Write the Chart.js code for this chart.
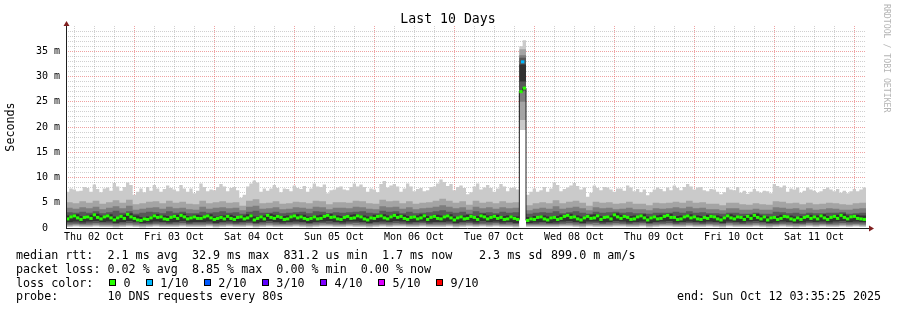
<!DOCTYPE html>
<html>
<head>
<meta charset="utf-8">
<script src="https://cdn.jsdelivr.net/npm/chart.js@4.4.0/dist/chart.umd.min.js"></script>
<style>
  html, body { margin: 0; padding: 0; background: #fff; overflow: hidden; }
  #wrap { position: relative; width: 897px; height: 310px; }
  .leg { position: absolute; left: 16px; font: 11.7px "DejaVu Sans Mono", monospace; line-height: 14px; color: #000; white-space: pre; }
  .box { position: absolute; width: 5px; height: 5px; border: 1px solid #000; }
</style>
</head>
<body>
<div id="wrap">
  <canvas id="myChart" width="897" height="310"></canvas>
  <div class="leg" style="top:248px">median rtt:  2.1 ms avg  32.9 ms max  831.2 us min  1.7 ms now</div>
  <div class="leg" style="top:248px;left:479px">2.3 ms sd</div>
  <div class="leg" style="top:248px;left:551px">899.0 m am/s</div>
  <div class="leg" style="top:262px">packet loss: 0.02 % avg  8.85 % max  0.00 % min  0.00 % now</div>
  <div class="leg" style="top:276px">loss color:</div>
  <div class="leg" style="top:289px">probe:       10 DNS requests every 80s</div>
  <div class="leg" style="top:289px;left:677px">end: Sun Oct 12 03:35:25 2025</div>
</div>
<script>
// hours since Thu 02 Oct 00:00
const startHour = 3.59
const endHour = 243.59

const dayLabels = ['Thu 02 Oct', 'Fri 03 Oct', 'Sat 04 Oct', 'Sun 05 Oct', 'Mon 06 Oct',
    'Tue 07 Oct', 'Wed 08 Oct', 'Thu 09 Oct', 'Fri 10 Oct', 'Sat 11 Oct']
const yTickLabels = ['0  ', '5 m', '10 m', '15 m', '20 m', '25 m', '30 m', '35 m']

const lossLabels = ['0', '1/10', '2/10', '3/10', '4/10', '5/10', '9/10']
const lossColors = ['#26ff00', '#00b8ff', '#0059ff', '#5e00ff', '#7e00ff', '#dd00ff', '#ff0000']

// slowest ping, one value per hour (ms)
const ping10 = [7.2,7.8,7.6,7.3,7.4,8.1,7.9,7.2,8.6,7.7,7.1,7.8,8.0,7.4,8.9,8.2,7.4,8.1,9.0,8.5,6.6,7.2,7.8,7.1,
    8.1,7.4,8.5,7.8,7.2,7.7,8.4,7.9,7.6,7.3,8.5,7.8,7.2,7.8,6.9,7.4,8.8,8.1,7.3,7.6,7.5,8.1,8.7,8.2,
    7.3,7.9,8.1,7.5,6.0,6.6,8.2,8.8,9.4,9.0,7.2,7.8,7.4,7.8,8.5,7.9,7.1,7.8,7.7,7.3,8.4,7.9,7.7,8.3,
    7.2,7.8,8.8,8.2,8.1,8.6,6.9,7.5,7.6,8.0,8.2,7.6,7.5,8.1,8.8,8.2,8.6,8.1,7.2,7.8,7.6,7.1,8.7,9.3,
    8.0,8.4,8.7,8.2,7.2,7.8,8.8,8.2,7.3,7.7,7.9,7.3,7.5,8.1,8.2,8.8,9.6,9.1,8.3,8.7,7.5,8.1,8.4,7.9,
    6.7,7.1,8.2,8.8,7.6,8.0,8.5,7.9,7.2,7.8,8.7,8.2,7.3,7.9,8.0,7.6,36.0,37.2,6.6,7.2,7.8,7.2,7.5,8.1,
    7.2,7.8,9.0,8.5,7.3,7.7,8.0,8.4,8.9,8.3,7.6,8.0,6.2,7.0,8.4,7.9,7.5,8.1,8.0,7.6,7.2,7.8,7.8,7.4,
    8.4,8.0,7.3,7.7,7.1,7.6,6.5,7.1,7.6,8.0,7.7,7.3,8.0,7.5,8.4,7.9,7.5,8.1,8.7,8.2,7.6,8.0,8.1,7.5,
    7.3,7.7,7.6,7.2,6.7,7.1,8.0,7.6,7.5,8.1,7.0,7.4,6.8,7.2,7.7,7.3,7.0,7.4,7.3,6.9,8.7,8.3,8.0,8.4,
    7.2,7.8,7.6,8.0,7.0,7.4,8.0,7.6,7.4,7.0,7.3,7.7,8.0,7.6,7.3,7.7,7.0,7.4,6.9,7.3,7.7,7.3,7.6,8.0]

// the other sorted pings, one value per 2 hours (ms)
const ping9 = [5.1,4.9,5.3,5.0,5.4,4.8,5.1,5.5,5.0,5.6,4.7,4.9,5.2,5.3,4.9,5.4,5.0,5.2,4.8,4.7,5.4,4.9,5.1,5.3,
    5.0,5.1,4.4,5.4,5.7,4.9,5.0,5.3,4.8,4.9,5.2,5.1,4.9,5.4,5.3,4.7,5.1,5.1,5.0,5.4,5.3,4.9,4.8,5.6,
    5.3,5.4,4.9,5.3,4.8,5.0,5.1,5.4,5.8,5.4,5.0,5.3,4.6,5.4,5.0,5.2,4.9,5.3,5.0,5.1,35.4,4.5,4.9,5.1,
    4.9,5.5,4.9,5.2,5.4,5.0,4.4,5.2,5.0,5.1,4.8,4.9,5.2,4.8,4.8,4.5,5.0,4.9,5.0,5.2,5.0,5.4,5.0,5.1,
    4.8,4.8,4.5,5.0,5.0,4.7,4.6,4.9,4.7,4.6,5.3,5.2,4.9,5.0,4.7,5.0,4.7,4.8,5.0,4.9,4.7,4.6,4.9,5.0]
const ping8 = [4.0,3.8,4.1,3.9,4.2,3.7,4.0,4.3,3.9,4.4,3.6,3.8,4.0,4.1,3.8,4.2,3.9,4.0,3.7,3.6,4.2,3.8,4.0,4.1,
    3.9,4.0,3.5,4.2,4.4,3.8,3.9,4.1,3.7,3.8,4.1,4.0,3.8,4.2,4.1,3.7,4.0,4.0,3.9,4.2,4.1,3.8,3.7,4.3,
    4.1,4.2,3.8,4.1,3.7,3.9,4.0,4.2,4.5,4.2,3.9,4.1,3.6,4.2,3.9,4.1,3.8,4.1,3.9,4.0,34.2,3.5,3.8,4.0,
    3.8,4.3,3.8,4.0,4.2,3.9,3.5,4.1,3.9,4.0,3.7,3.8,4.0,3.7,3.7,3.5,3.9,3.8,3.9,4.1,3.9,4.2,3.9,4.0,
    3.7,3.7,3.5,3.9,3.9,3.6,3.6,3.8,3.6,3.6,4.1,4.0,3.8,3.9,3.6,3.9,3.6,3.7,3.9,3.8,3.6,3.6,3.8,3.9]
const ping7 = [3.1,3.0,3.2,3.0,3.3,2.9,3.1,3.4,3.0,3.3,2.8,3.0,3.2,3.1,2.9,3.3,3.0,3.2,2.9,2.9,3.2,3.0,3.1,3.3,
    3.0,3.1,2.8,3.2,3.4,3.0,3.0,3.2,2.9,3.0,3.1,3.2,2.9,3.3,3.2,2.9,3.1,3.0,3.1,3.2,3.3,3.0,2.9,3.4,
    3.2,3.3,2.9,3.2,2.9,3.0,3.1,3.3,3.5,3.2,3.0,3.2,2.8,3.3,3.0,3.1,2.9,3.2,3.0,3.1,33.7,2.8,3.0,3.1,
    3.0,3.3,2.9,3.1,3.3,3.0,2.8,3.2,3.0,3.1,3.2,3.0,3.1,2.9,2.9,2.8,3.0,3.0,3.0,3.2,3.0,3.3,3.0,3.1,
    2.9,2.9,2.8,3.0,3.0,2.8,2.8,3.0,2.8,2.8,3.2,3.1,2.9,3.0,2.8,3.0,2.9,2.9,3.0,3.0,3.1,2.8,2.9,3.0]
const ping6 = [2.5,2.7,2.4,2.6,2.8,2.5,2.7,2.3,2.6,2.9,2.5,2.2,2.3,2.7,2.5,2.4,2.6,2.8,2.4,2.6,2.5,2.7,2.3,2.5,
    2.6,2.4,2.5,2.7,2.3,2.5,2.8,2.6,2.4,2.5,2.7,2.6,2.3,2.5,2.6,2.8,2.5,2.4,2.6,2.7,2.5,2.3,2.6,2.7,
    2.5,2.8,2.6,2.4,2.5,2.7,2.4,2.6,2.5,2.7,2.3,2.5,2.6,2.4,2.8,2.5,2.6,2.4,2.5,2.3,32.4,2.2,2.4,2.5,
    2.3,2.4,2.6,2.8,2.5,2.3,2.6,2.7,2.4,2.5,2.9,2.6,2.4,2.5,2.7,2.3,2.5,2.6,2.8,2.4,2.5,2.7,2.5,2.4,
    2.6,2.5,2.3,2.7,2.5,2.4,2.6,2.8,2.5,2.3,2.4,2.6,2.5,2.3,2.4,2.6,2.5,2.7,2.4,2.6,2.8,2.5,2.6,2.5]
const ping5 = [1.2,1.3,1.1,1.3,1.4,1.2,1.3,1.0,1.2,1.4,1.2,1.0,1.1,1.3,1.2,1.1,1.2,1.4,1.1,1.2,1.2,1.3,1.0,1.2,
    1.3,1.1,1.2,1.3,1.0,1.2,1.4,1.2,1.1,1.2,1.3,1.2,1.0,1.2,1.3,1.4,1.2,1.1,1.3,1.3,1.2,1.0,1.2,1.3,
    1.2,1.4,1.3,1.1,1.2,1.3,1.1,1.2,1.2,1.3,1.0,1.2,1.3,1.1,1.4,1.2,1.3,1.1,1.2,1.0,29.0,1.0,1.1,1.2,
    1.0,1.1,1.3,1.4,1.2,1.0,1.3,1.3,1.1,1.2,1.4,1.3,1.1,1.2,1.3,1.0,1.2,1.3,1.4,1.1,1.2,1.3,1.2,1.1,
    1.3,1.2,1.0,1.3,1.2,1.1,1.3,1.4,1.2,1.0,1.1,1.3,1.2,1.0,1.1,1.3,1.2,1.3,1.1,1.3,1.4,1.2,1.3,1.2]
const ping4 = [0.9,0.9,0.8,0.9,1.0,0.9,0.9,0.8,0.9,1.0,0.9,0.8,0.8,0.9,0.9,0.8,0.9,1.0,0.8,0.9,0.9,0.9,0.8,0.9,
    0.9,0.8,0.9,1.0,0.8,0.9,1.0,0.9,0.8,0.9,0.9,0.9,0.8,0.9,1.0,0.9,0.9,0.8,0.9,1.0,0.9,0.8,0.9,0.9,
    0.9,1.0,0.9,0.8,0.9,1.0,0.8,0.9,0.9,0.9,0.8,0.9,1.0,0.8,0.9,0.9,1.0,0.8,0.9,0.8,27.2,0.8,0.8,0.9,
    0.8,0.8,0.9,1.0,0.9,0.8,0.9,1.0,0.8,0.9,1.0,0.9,0.8,0.9,1.0,0.8,0.9,0.9,1.0,0.8,0.9,1.0,0.9,0.8,
    0.9,0.9,0.8,1.0,0.9,0.8,0.9,1.0,0.9,0.8,0.8,0.9,0.9,0.8,0.8,1.0,0.9,0.9,0.8,0.9,1.0,0.9,0.9,0.9]
const ping3 = [0.6,0.7,0.6,0.6,0.7,0.6,0.6,0.5,0.6,0.7,0.6,0.5,0.6,0.7,0.6,0.6,0.6,0.7,0.6,0.6,0.6,0.7,0.5,0.6,
    0.7,0.6,0.6,0.7,0.5,0.6,0.7,0.6,0.6,0.6,0.7,0.6,0.5,0.6,0.7,0.7,0.6,0.6,0.7,0.6,0.6,0.5,0.6,0.7,
    0.6,0.7,0.7,0.6,0.6,0.7,0.6,0.6,0.6,0.7,0.5,0.6,0.7,0.6,0.7,0.6,0.7,0.6,0.6,0.5,25.0,0.6,0.6,0.6,
    0.6,0.6,0.7,0.7,0.6,0.5,0.7,0.6,0.6,0.6,0.7,0.7,0.6,0.6,0.7,0.5,0.6,0.7,0.7,0.6,0.6,0.7,0.6,0.6,
    0.7,0.6,0.5,0.7,0.6,0.6,0.6,0.7,0.6,0.5,0.6,0.7,0.6,0.5,0.6,0.7,0.6,0.7,0.6,0.6,0.7,0.6,0.7,0.6]
const ping2 = [0.4,0.5,0.4,0.4,0.5,0.4,0.4,0.3,0.4,0.5,0.4,0.3,0.4,0.5,0.4,0.4,0.4,0.5,0.4,0.4,0.4,0.5,0.3,0.4,
    0.5,0.4,0.4,0.5,0.3,0.4,0.5,0.4,0.4,0.4,0.5,0.4,0.3,0.4,0.5,0.5,0.4,0.4,0.5,0.4,0.4,0.3,0.4,0.5,
    0.4,0.5,0.5,0.4,0.4,0.5,0.4,0.4,0.4,0.5,0.3,0.4,0.5,0.4,0.5,0.4,0.5,0.4,0.4,0.3,21.4,0.4,0.4,0.4,
    0.4,0.4,0.5,0.5,0.4,0.3,0.5,0.4,0.4,0.4,0.5,0.5,0.4,0.4,0.5,0.3,0.4,0.5,0.5,0.4,0.4,0.5,0.4,0.4,
    0.5,0.4,0.3,0.5,0.4,0.4,0.4,0.5,0.4,0.3,0.4,0.5,0.4,0.3,0.4,0.5,0.4,0.5,0.4,0.4,0.5,0.4,0.5,0.4]
const ping1 = [0.2,0.3,0.2,0.2,0.3,0.2,0.2,0.1,0.2,0.3,0.2,0.1,0.2,0.3,0.2,0.2,0.2,0.3,0.2,0.2,0.2,0.3,0.1,0.2,
    0.3,0.2,0.2,0.3,0.1,0.2,0.3,0.2,0.2,0.2,0.3,0.2,0.1,0.2,0.3,0.3,0.2,0.2,0.3,0.2,0.2,0.1,0.2,0.3,
    0.2,0.3,0.3,0.2,0.2,0.3,0.2,0.2,0.2,0.3,0.1,0.2,0.3,0.2,0.3,0.2,0.3,0.2,0.2,0.1,19.4,0.2,0.2,0.2,
    0.2,0.2,0.3,0.3,0.2,0.1,0.3,0.2,0.2,0.2,0.3,0.3,0.2,0.2,0.3,0.1,0.2,0.3,0.3,0.2,0.2,0.3,0.2,0.2,
    0.3,0.2,0.1,0.3,0.2,0.2,0.2,0.3,0.2,0.1,0.2,0.3,0.2,0.1,0.2,0.3,0.2,0.3,0.2,0.2,0.3,0.2,0.3,0.2]

// median rtt, one value per hour (ms)
const medianRtt = [1.8,2.2,2.4,2.0,1.7,2.1,2.2,1.9,2.6,2.1,1.8,2.2,2.4,2.0,1.6,2.0,2.3,1.9,2.7,2.2,1.9,1.6,1.5,1.8,
    1.7,2.0,2.4,2.1,2.2,1.8,1.7,2.1,2.3,1.9,2.5,2.2,1.8,2.0,2.2,1.9,1.9,2.2,2.4,2.0,1.7,1.9,2.1,1.8,
    2.3,1.9,1.7,2.1,2.2,1.8,2.0,2.4,1.6,1.9,2.2,1.8,2.5,2.1,1.9,2.3,2.1,1.7,1.8,2.2,2.4,2.0,2.2,1.9,
    1.7,1.9,2.2,1.8,1.9,2.3,2.5,2.1,2.2,1.8,1.7,2.1,2.3,1.9,2.0,2.4,2.2,1.8,1.6,2.0,1.9,2.3,2.4,2.0,
    1.8,2.2,2.5,2.1,2.3,1.9,1.7,2.1,2.2,1.8,2.0,2.4,1.7,2.1,2.3,1.9,1.8,2.2,2.4,2.0,1.6,2.0,2.2,1.8,
    1.9,2.3,2.1,1.7,2.4,2.2,1.8,2.1,2.3,1.9,2.1,1.7,1.8,2.2,1.9,1.7,27.0,27.7,1.5,1.8,1.7,2.1,2.2,1.8,
    1.6,2.0,2.1,1.7,1.9,2.3,2.5,2.1,2.2,1.8,1.6,2.0,2.3,1.9,2.0,2.4,1.7,2.1,2.2,1.8,2.6,2.2,1.9,2.3,
    2.1,1.7,1.8,2.2,2.4,2.0,1.6,2.0,2.2,1.8,1.9,2.3,2.5,2.1,2.1,1.7,1.8,2.2,2.4,2.0,2.2,1.8,1.7,2.1,
    1.9,2.3,2.2,1.8,1.6,2.0,2.4,2.0,1.8,2.2,2.1,1.7,2.3,1.9,2.5,2.1,1.8,2.2,1.6,2.0,2.1,1.7,1.9,2.3,
    2.2,1.8,1.6,2.0,1.7,2.1,2.3,1.9,2.2,1.8,2.4,2.0,1.7,2.1,2.3,1.9,2.5,2.1,1.8,2.2,2.3,1.9,1.8,1.7]

// one sample with 1/10 loss at the spike on Tue 07 Oct evening
const lossHours = [140.59]
const lossRtt = [32.9]

const majorGrid = 'rgba(225,85,85,0.55)'
const minorGrid = 'rgba(120,120,120,0.35)'
const monoFont = '"DejaVu Sans Mono", monospace'

// step data: value holds from its start until the next one
const stepPoints = (values, hours) => {
    const pts = values.map((v, i) => ({ x: startHour + i * hours, y: v }))
    pts.push({ x: endHour, y: values[values.length - 1] })
    return pts
}

const smokeLayer = (values, hours, color) => ({
    data: stepPoints(values, hours),
    stepped: true,
    fill: 'origin',
    backgroundColor: color,
    borderWidth: 0,
    pointRadius: 0
})

// bottom layer first
const layers = [
    smokeLayer(ping10, 1, '#cacaca'),
    smokeLayer(ping9, 2, '#a4a4a4'),
    smokeLayer(ping8, 2, '#7e7e7e'),
    smokeLayer(ping7, 2, '#585858'),
    smokeLayer(ping6, 2, '#323232'),
    smokeLayer(ping5, 2, '#585858'),
    smokeLayer(ping4, 2, '#7e7e7e'),
    smokeLayer(ping3, 2, '#a4a4a4'),
    smokeLayer(ping2, 2, '#cacaca'),
    smokeLayer(ping1, 2, '#ffffff'),
    {
        data: stepPoints(medianRtt, 1),
        stepped: true,
        fill: false,
        borderColor: '#202020',
        borderWidth: 1,
        pointRadius: 0
    },
    {
        data: medianRtt.map((v, i) => ({ x: startHour + i + 0.5, y: v })),
        showLine: false,
        pointStyle: 'line',
        pointRadius: 1.7,
        pointBorderWidth: 3,
        pointBorderColor: lossColors[0]
    },
    {
        data: lossHours.map((h, i) => ({ x: h, y: lossRtt[i] })),
        showLine: false,
        pointStyle: 'line',
        pointRadius: 1.7,
        pointBorderWidth: 3,
        pointBorderColor: lossColors[1]
    }
]
layers.forEach((ds, i) => { ds.order = layers.length - i })

const decor = {
    id: 'decor',
    afterDraw: (chart) => {
        const { ctx, chartArea: a } = chart
        ctx.save()
        ctx.strokeStyle = '#1f1f1f'
        ctx.lineWidth = 1
        ctx.beginPath()
        ctx.moveTo(a.left + 0.5, a.bottom + 1)
        ctx.lineTo(a.left + 0.5, a.top - 2)
        ctx.moveTo(a.left, a.bottom + 0.5)
        ctx.lineTo(a.right + 3, a.bottom + 0.5)
        ctx.stroke()

        ctx.fillStyle = '#801f1f'
        ctx.beginPath()
        ctx.moveTo(a.left - 2.5, a.top)
        ctx.lineTo(a.left + 3.5, a.top)
        ctx.lineTo(a.left + 0.5, a.top - 5)
        ctx.fill()
        ctx.beginPath()
        ctx.moveTo(a.right + 3, a.bottom - 2.5)
        ctx.lineTo(a.right + 3, a.bottom + 3.5)
        ctx.lineTo(a.right + 8, a.bottom + 0.5)
        ctx.fill()

        ctx.fillStyle = '#000'
        ctx.textAlign = 'center'
        ctx.textBaseline = 'middle'
        ctx.font = '13.2px ' + monoFont
        ctx.fillText('Last 10 Days', 448, 20)

        ctx.font = '11.7px ' + monoFont
        ctx.translate(11, (a.top + a.bottom) / 2)
        ctx.rotate(-Math.PI / 2)
        ctx.fillText('Seconds', 0, 0)
        ctx.restore()

        ctx.save()
        ctx.fillStyle = '#b4b4b4'
        ctx.font = '8.2px ' + monoFont
        ctx.textAlign = 'left'
        ctx.textBaseline = 'middle'
        ctx.translate(886, 4)
        ctx.rotate(Math.PI / 2)
        ctx.fillText('RRDTOOL / TOBI OETIKER', 0, 0)
        ctx.restore()
    }
}

const ctx = document.querySelector('#myChart').getContext('2d')

const config = {
    type: 'line',
    data: { datasets: layers },
    plugins: [decor],
    options: {
        responsive: false,
        animation: false,
        layout: { padding: { left: 0, top: 26, right: 31, bottom: 0 } },
        plugins: {
            legend: { display: false },
            tooltip: { enabled: false },
            title: { display: false }
        },
        scales: {
            x: {
                type: 'linear',
                min: startHour,
                max: endHour,
                z: 1,
                afterBuildTicks: (scale) => {
                    const t = []
                    for (let h = 6; h <= 240; h += 6) t.push({ value: h })
                    scale.ticks = t
                },
                afterFit: (scale) => { scale.height = 82 },
                grid: {
                    drawTicks: false,
                    color: (c) => c.tick && c.tick.value % 24 === 0 ? majorGrid : minorGrid
                },
                border: { display: false, dash: [1, 1] },
                ticks: {
                    autoSkip: false,
                    maxRotation: 0,
                    padding: 3,
                    color: '#000',
                    font: { family: monoFont, size: 10 },
                    callback: (v) => v % 24 === 12 ? dayLabels[(v - 12) / 24] : ''
                }
            },
            y: {
                min: 0,
                max: 40,
                z: 1,
                afterBuildTicks: (scale) => {
                    const t = []
                    for (let v = 0; v <= 40; v++) t.push({ value: v })
                    scale.ticks = t
                },
                afterFit: (scale) => { scale.width = 66 },
                grid: {
                    drawTicks: false,
                    color: (c) => {
                        const v = c.tick ? c.tick.value : 0
                        if (v === 0 || v === 40) return 'rgba(0,0,0,0)'
                        return v % 5 === 0 ? majorGrid : minorGrid
                    }
                },
                border: { display: false, dash: [1, 1] },
                ticks: {
                    autoSkip: false,
                    padding: 6,
                    color: '#000',
                    font: { family: monoFont, size: 10 },
                    callback: (v) => v % 5 === 0 && v < 40 ? yTickLabels[v / 5] : ''
                }
            }
        }
    }
}

const myChart = new Chart(ctx, config)

// loss colour legend row
const wrap = document.querySelector('#wrap')
let boxX = 108.7
lossLabels.forEach((label, i) => {
    const box = document.createElement('div')
    box.className = 'box'
    box.style.left = boxX + 'px'
    box.style.top = '279px'
    box.style.background = lossColors[i]
    wrap.appendChild(box)

    const txt = document.createElement('div')
    txt.className = 'leg'
    txt.style.left = (boxX + 14.7) + 'px'
    txt.style.top = '276px'
    txt.innerText = label
    wrap.appendChild(txt)

    boxX = boxX + 14.7 + label.length * 7.03 + 15.2
})
</script>
</body>
</html>
